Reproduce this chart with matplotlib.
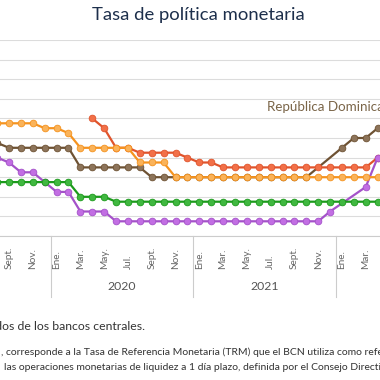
import matplotlib.pyplot as plt

plt.rcParams['font.family'] = ['Lato', 'DejaVu Sans']

# meses desde agosto 2019 hasta abril 2022 (indice 0 = enero 2020 -> posicion -5 al inicio)
meses = ["Ago.", "Sept.", "Oct.", "Nov.", "Dic.",
         "Ene.", "Feb.", "Mar.", "Abr.", "May.", "Jun.", "Jul.", "Ago.", "Sept.", "Oct.", "Nov.", "Dic.",
         "Ene.", "Feb.", "Mar.", "Abr.", "May.", "Jun.", "Jul.", "Ago.", "Sept.", "Oct.", "Nov.", "Dic.",
         "Ene.", "Feb.", "Mar.", "Abr."]
inicio = -5
anos = ["2020", "2021"]

honduras = [5.75, 5.75, 5.75, 5.75, 5.5,
            5.5, 5.25, 4.5, 4.5, 4.5, 4.5, 4.5, 3.75, 3.75, 3.75, 3.0, 3.0,
            3.0, 3.0, 3.0, 3.0, 3.0, 3.0, 3.0, 3.0, 3.0, 3.0, 3.0, 3.0,
            3.0, 3.0, 3.0, 3.0]
guatemala = [2.75, 2.75, 2.75, 2.75, 2.75,
             2.75, 2.75, 2.0, 2.0, 2.0, 1.75, 1.75, 1.75, 1.75, 1.75, 1.75, 1.75,
             1.75, 1.75, 1.75, 1.75, 1.75, 1.75, 1.75, 1.75, 1.75, 1.75, 1.75, 1.75,
             1.75, 1.75, 1.75, 1.75]
costa_rica = [4.0, 3.75, 3.25, 3.25, 2.75,
              2.25, 2.25, 1.25, 1.25, 1.25, 0.75, 0.75, 0.75, 0.75, 0.75, 0.75, 0.75,
              0.75, 0.75, 0.75, 0.75, 0.75, 0.75, 0.75, 0.75, 0.75, 0.75, 0.75, 1.25,
              None, None, 2.5, 4.0]
rep_dominicana = [4.75, 4.5, 4.5, 4.5, 4.5,
                  4.5, 4.5, 3.5, 3.5, 3.5, 3.5, 3.5, 3.5, 3.0, 3.0, 3.0, 3.0,
                  3.0, 3.0, 3.0, 3.0, 3.0, 3.0, 3.0, 3.0, 3.0, 3.0, None, None,
                  4.5, 5.0, 5.0, 5.5]
nicaragua = [None, None, None, None, None,
             None, None, None, 6.0, 5.5, 4.5, 4.5, 4.25, 4.25, 4.25, 4.25, 4.0,
             3.75, 3.75, 3.5, 3.5, 3.5, 3.5, 3.5, 3.5, 3.5, 3.5, 3.5, 3.5,
             3.5, 3.5, 3.5, 4.0]

# (serie, color linea, color marcador) en orden de dibujo
series = [
    (rep_dominicana, '#6e5233', '#8d745a'),
    (nicaragua, '#e0542c', '#f27048'),
    (costa_rica, '#a452c9', '#c26ee3'),
    (guatemala, '#1c9a1c', '#40b840'),
    (honduras, '#f5931f', '#fab35a'),
]

fig = plt.figure(figsize=(3.8, 3.8), dpi=100)
px = 11.89  # ancho de un mes en pixeles
x0 = 56.6   # pixel de enero 2020
ax = fig.add_axes([0, 144 / 380, 1, 196 / 380])
ax.set_xlim(-x0 / px, (380 - x0) / px)
ax.set_ylim(0, 10)

for valores, c_linea, c_marca in series:
    xs = [inicio + i for i, v in enumerate(valores) if v is not None]
    ys = [v for v in valores if v is not None]
    ax.plot(xs, ys, color=c_linea, lw=1.6, marker='o', ms=4.8,
            markerfacecolor=c_marca, markeredgecolor=c_linea, markeredgewidth=0.6)

ax.set_yticks(range(0, 11))
ax.grid(axis='y', color='#dcdcdc', lw=0.8)
ax.set_axisbelow(True)
ax.set_xticks([])
ax.tick_params(left=False, labelleft=False)
for s in ['top', 'left', 'right']:
    ax.spines[s].set_visible(False)
ax.spines['bottom'].set_color('#cccccc')
ax.spines['bottom'].set_linewidth(0.8)

trans = ax.get_xaxis_transform()
for i, mes in enumerate(meses):
    if i % 2 == 1:
        ax.text(inicio + i, -0.168, mes, rotation=90, ha='center', va='bottom',
                fontsize=7.2, color='#666666', transform=trans, clip_on=False)
for k, ano in enumerate(anos):
    ax.text(5.5 + 12 * k, -0.26, ano, ha='center', va='center', fontsize=8.8,
            color='#555555', transform=trans, clip_on=False)
for sep in [-0.5, 11.5, 23.5]:
    ax.plot([sep, sep], [0, -0.31], color='#cccccc', lw=0.8, transform=trans, clip_on=False)

ax.text(17.7, 6.56, "República Dominicana", fontsize=9.6, color='#7a6548', va='center', ha='left')

fig.text(198.5 / 380, 1 - 15 / 380, "Tasa de política monetaria", ha='center', va='center',
         fontsize=13.3, color='#1d2f4b')

fig.text(145 / 380, 1 - 326.5 / 380,
         "Fuente: elaboración propia con datos publicados de los bancos centrales.",
         ha='right', va='center', fontsize=8.8, color='#333333')
fig.text(1 / 380, 1 - 352 / 380,
         ", corresponde a la Tasa de Referencia Monetaria (TRM) que el BCN utiliza como referencia para",
         ha='left', va='center', fontsize=7.45, color='#333333')
fig.text(4 / 380, 1 - 368 / 380,
         "las operaciones monetarias de liquidez a 1 día plazo, definida por el Consejo Directivo.",
         ha='left', va='center', fontsize=7.45, color='#333333')

fig.savefig('out.png', dpi=100)
